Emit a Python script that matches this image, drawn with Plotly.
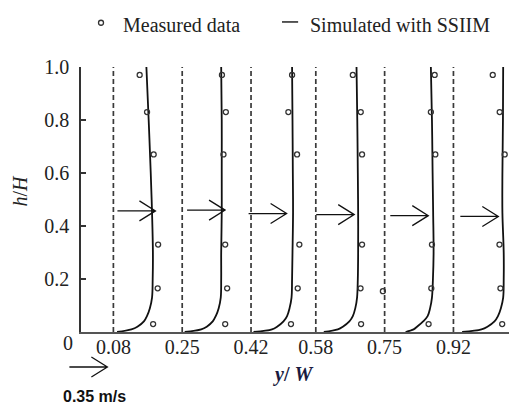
import plotly.graph_objects as go

# ---------------- data ----------------
positions = [0.08, 0.25, 0.42, 0.58, 0.75, 0.92]          # y/W of each section
tick_labels = ["0.08", "0.25", "0.42", "0.58", "0.75", "0.92"]
y_ticks = [0.2, 0.4, 0.6, 0.8, 1.0]
y_tick_labels = ["0.2", "0.4", "0.6", "0.8", "1.0"]

# simulated (SSIIM) velocity profiles, m/s, at relative depth h/H
h_sim = [0, 0.01, 0.02, 0.04, 0.06, 0.09, 0.13, 0.2, 0.3, 0.45, 0.6, 0.8, 1.0]
u_sim_1 = [0.034, 0.166, 0.221, 0.281, 0.309, 0.336, 0.356, 0.362, 0.364, 0.356, 0.344, 0.325, 0.304]
u_sim_2 = [0.023, 0.175, 0.226, 0.281, 0.309, 0.336, 0.355, 0.359, 0.359, 0.364, 0.364, 0.364, 0.359]
u_sim_3 = [0.023, 0.193, 0.240, 0.299, 0.332, 0.355, 0.373, 0.378, 0.382, 0.387, 0.385, 0.382, 0.378]
u_sim_4 = [0.074, 0.203, 0.249, 0.309, 0.341, 0.364, 0.380, 0.387, 0.390, 0.390, 0.387, 0.382, 0.375]
u_sim_5 = [0.193, 0.267, 0.299, 0.355, 0.396, 0.419, 0.436, 0.445, 0.451, 0.447, 0.442, 0.436, 0.426]
u_sim_6 = [0.080, 0.258, 0.313, 0.378, 0.410, 0.437, 0.458, 0.463, 0.463, 0.451, 0.451, 0.456, 0.458]

# measured velocities, m/s
h_meas = [0.97, 0.83, 0.67, 0.33, 0.165, 0.03]
u_meas_1 = [0.242, 0.310, 0.371, 0.412, 0.408, 0.366]
u_meas_2 = [0.366, 0.402, 0.380, 0.396, 0.414, 0.396]
u_meas_3 = [0.378, 0.344, 0.424, 0.445, 0.430, 0.368]
u_meas_4 = [0.341, 0.414, 0.426, 0.426, 0.412, 0.417]
u_meas_5 = [0.461, 0.426, 0.467, 0.436, 0.430, 0.405]
u_meas_6 = [0.362, 0.426, 0.472, 0.424, 0.433, 0.449]
# one extra measured point at section 5
h_extra_5 = [0.154]
u_extra_5 = [-0.016]

# reference arrows (0.35 m/s)
ref_speed = 0.35
arrow_start = [0.090, 0.262, 0.414, 0.581, 0.764, 0.937]
arrow_h = [0.457, 0.460, 0.447, 0.443, 0.439, 0.436]

scale = 0.2682   # y/W units per m/s

u_sim = [u_sim_1, u_sim_2, u_sim_3, u_sim_4, u_sim_5, u_sim_6]
u_meas = [u_meas_1, u_meas_2, u_meas_3, u_meas_4, u_meas_5, u_meas_6]

SERIF = "Liberation Serif, Times New Roman, serif"
INK = "#222222"

X_MAX = 1.077
FIG_W, FIG_H = 509, 398          # page body adds an 8px offset
M_L, M_R, M_T, M_B = 73, 0, 59, 74
PLOT_W = FIG_W - M_L - M_R
PLOT_H = FIG_H - M_T - M_B
px_per_unit = PLOT_W / X_MAX
HEAD_DX, HEAD_DY = 16, 10        # arrow head size, px


def xp(x):
    """data x -> paper x"""
    return x / X_MAX


def arrow_path(x0, x1, y, dx, dy):
    return (f"M{x0},{y} L{x1},{y} "
            f"M{x1 - dx},{y + dy} L{x1},{y} L{x1 - dx},{y - dy}")


fig = go.Figure()

for i, base in enumerate(positions):
    fig.add_trace(go.Scatter(x=[base, base], y=[0, 1.0], mode="lines",
                             line=dict(color="#3a3a3a", width=1.7, dash="5px,3px"),
                             showlegend=False, hoverinfo="skip"))
    fig.add_trace(go.Scatter(x=[base + u * scale for u in u_sim[i]], y=h_sim,
                             mode="lines", line=dict(color="#111111", width=1.8, shape="spline"),
                             showlegend=False))
    fig.add_trace(go.Scatter(x=[base + u * scale for u in u_meas[i]], y=h_meas,
                             mode="markers",
                             marker=dict(symbol="circle-open", size=5, color="#333333",
                                         line=dict(width=1.3, color="#333333")),
                             showlegend=False))

fig.add_trace(go.Scatter(x=[positions[4] + u * scale for u in u_extra_5], y=h_extra_5,
                         mode="markers",
                         marker=dict(symbol="circle-open", size=5, color="#333333",
                                     line=dict(width=1.3, color="#333333")),
                         showlegend=False))

shapes = []
for xs, hy in zip(arrow_start, arrow_h):
    shapes.append(dict(type="path", xref="x", yref="y",
                       path=arrow_path(xs, xs + ref_speed * scale, hy,
                                       HEAD_DX / px_per_unit, HEAD_DY / PLOT_H),
                       line=dict(color="#111111", width=1.3)))

# scale arrow below the axis (paper coords, length from the same scale)
ref_x0 = -0.0287
ref_y0 = -0.132
shapes.append(dict(type="path", xref="paper", yref="paper",
                   path=arrow_path(xp(ref_x0), xp(ref_x0 + ref_speed * scale), ref_y0,
                                   HEAD_DX / PLOT_W, HEAD_DY / PLOT_H),
                   line=dict(color="#111111", width=1.3)))

# legend glyphs
shapes += [
    dict(type="circle", xref="paper", yref="paper", xsizemode="pixel", ysizemode="pixel",
         xanchor=0.0459, yanchor=1.167, x0=-2.5, x1=2.5, y0=-2.5, y1=2.5,
         line=dict(color="#333333", width=1.3)),
    dict(type="line", xref="paper", yref="paper", x0=0.461, x1=0.498, y0=1.17, y1=1.17,
         line=dict(color="#222222", width=1.5)),
]

annotations = [
    dict(x=xp(0.033), y=-0.243, text="<b>0.35 m/s</b>",
         font=dict(family="Liberation Sans, Arial, sans-serif", size=16, color="#111111")),
    dict(x=xp(-0.031), y=-0.041, text="0", font=dict(family=SERIF, size=20, color=INK)),
    dict(x=xp(0.5247), y=-0.16, text="<b><i>y</i>/ <i>W</i></b>",
         font=dict(family=SERIF, size=20, color="#1a1a40")),
    dict(x=xp(-0.1497), y=0.535, text="<i>h</i>/<i>H</i>", textangle=-90,
         font=dict(family=SERIF, size=20, color=INK)),
]
for a in annotations:
    a.update(xref="paper", yref="paper", showarrow=False, xanchor="center", yanchor="middle")

# legend text
annotations.append(dict(x=0.0917, y=1.160, xref="paper", yref="paper", showarrow=False,
                        xanchor="left", yanchor="middle", text="Measured data",
                        font=dict(family=SERIF, size=20, color=INK)))
annotations.append(dict(x=0.5206, y=1.160, xref="paper", yref="paper", showarrow=False,
                        xanchor="left", yanchor="middle", text="Simulated with SSIIM",
                        font=dict(family=SERIF, size=20, color=INK)))

fig.update_layout(
    width=FIG_W, height=FIG_H,
    margin=dict(l=M_L, r=M_R, t=M_T, b=M_B),
    paper_bgcolor="white", plot_bgcolor="white",
    showlegend=False,
    annotations=annotations, shapes=shapes,
    xaxis=dict(range=[0, X_MAX], tickvals=positions, ticktext=tick_labels,
               showgrid=False, zeroline=False, showline=True, linecolor="#555555", linewidth=2,
               ticks="", ticklabelstandoff=-4,
               tickfont=dict(family=SERIF, size=20, color=INK)),
    yaxis=dict(range=[0, 1.0], tickvals=y_ticks, ticktext=y_tick_labels,
               showgrid=False, zeroline=False, showline=True, linecolor="#333333", linewidth=1.5,
               ticks="inside", ticklen=5, tickcolor="#333333", tickwidth=1.5,
               ticklabelstandoff=6,
               tickfont=dict(family=SERIF, size=20, color=INK)),
)

fig.write_html("out.html")
